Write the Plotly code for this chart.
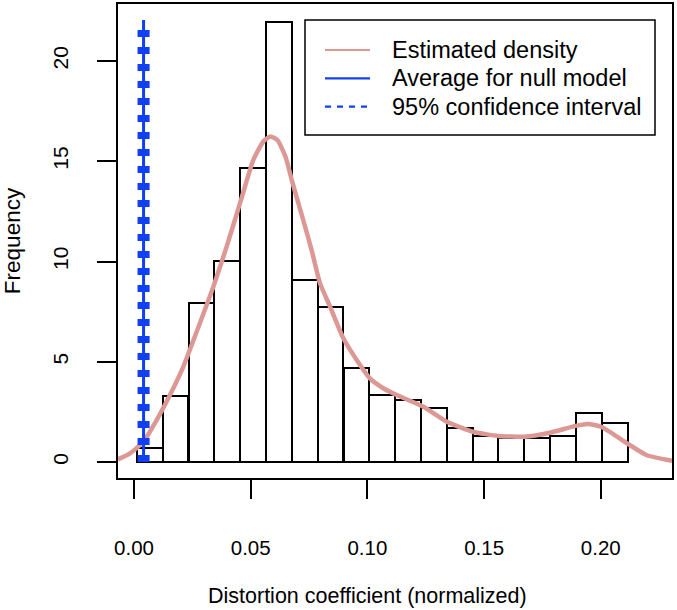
import plotly.graph_objects as go

# ---------------- data ----------------
bin_centers = [0.0067, 0.0178, 0.0289, 0.0399, 0.0510, 0.0621, 0.0732, 0.0842,
               0.0953, 0.1064, 0.1174, 0.1285, 0.1396, 0.1507, 0.1617, 0.1728,
               0.1839, 0.1949, 0.2060]
bin_width = 0.01107
frequency = [0.68, 3.29, 7.95, 10.02, 14.65, 21.96, 9.08, 7.75, 4.67, 3.34,
             3.09, 2.68, 1.71, 1.31, 1.18, 1.18, 1.30, 2.46, 1.95]

density_x = [-0.0069, -0.0017, 0.0040, 0.0097, 0.0154, 0.0211, 0.0275, 0.0340,
             0.0397, 0.0454, 0.0511, 0.0554, 0.0584, 0.0615, 0.0650, 0.0676,
             0.0725, 0.0761, 0.0797, 0.0840, 0.0897, 0.0954, 0.1011, 0.1068,
             0.1126, 0.1240, 0.1341, 0.1452, 0.1561, 0.1672, 0.1782, 0.1892,
             0.1945, 0.2002, 0.2113, 0.2195, 0.2305]
density_y = [0.13, 0.43, 1.01, 2.09, 3.34, 4.75, 6.70, 8.74, 10.74, 12.90,
             15.06, 15.98, 16.24, 16.05, 15.20, 14.06, 12.07, 10.57, 8.91, 7.75,
             6.17, 5.09, 4.17, 3.68, 3.34, 2.76, 2.01, 1.51, 1.30, 1.26, 1.46,
             1.80, 1.90, 1.76, 0.93, 0.35, 0.06]

null_mean = 0.0041
null_ci = [0.0028, 0.0054]
line_top = 22.04

x_ticks = [0.00, 0.05, 0.10, 0.15, 0.20]
y_ticks = [0, 5, 10, 15, 20]

legend_labels = ["Estimated density", "Average for null model", "95% confidence interval"]

# ---------------- style ----------------
PINK = "#dc9894"
BLUE = "#1040f0"
FONT = "Liberation Sans, Arial, sans-serif"

W, H = 677, 610
L, R, T, B = 118, 5, 4, 132
PW, PH = W - L - R, H - T - B


def px_x(p):
    return (p - L) / PW


def px_y(p):
    return (H - B - p) / PH


fig = go.Figure()

fig.add_trace(go.Bar(
    x=bin_centers, y=frequency, width=bin_width,
    marker=dict(color="white", line=dict(color="black", width=2)),
    showlegend=False, name="Histogram"))

fig.add_trace(go.Scatter(
    x=density_x, y=density_y, mode="lines", name=legend_labels[0],
    line=dict(color=PINK, width=4.5, shape="spline", smoothing=0.5),
    showlegend=False))

for xc in null_ci:
    fig.add_trace(go.Scatter(
        x=[xc, xc], y=[0, line_top], mode="lines", name=legend_labels[2],
        line=dict(color=BLUE, width=6, dash="7px,10px"), showlegend=False))

fig.add_trace(go.Scatter(
    x=[null_mean, null_mean], y=[0, line_top], mode="lines", name=legend_labels[1],
    line=dict(color=BLUE, width=3), showlegend=False))

# ---------------- manual legend (R style) ----------------
shapes = [dict(type="rect", xref="paper", yref="paper",
               x0=px_x(305), x1=px_x(655), y0=px_y(135), y1=px_y(20),
               line=dict(color="black", width=1.5), fillcolor="white", layer="above")]
rows = [50, 78.3, 106.7]
samples = [dict(color=PINK, width=2), dict(color=BLUE, width=2.2),
           dict(color=BLUE, width=2.2, dash="6px,6px")]
annotations = []
for ry, st, lab in zip(rows, samples, legend_labels):
    shapes.append(dict(type="line", xref="paper", yref="paper",
                       x0=px_x(325), x1=px_x(370), y0=px_y(ry), y1=px_y(ry),
                       line=st, layer="above"))
    annotations.append(dict(xref="paper", yref="paper", x=px_x(390), y=px_y(ry),
                            text=lab, showarrow=False, xanchor="left", yanchor="middle",
                            font=dict(family=FONT, size=23.5, color="black")))

annotations.append(dict(xref="paper", yref="paper", x=px_x(367), y=px_y(596),
                        text="Distortion coefficient (normalized)", showarrow=False,
                        xanchor="center", yanchor="middle",
                        font=dict(family=FONT, size=21.5, color="black")))

fig.update_layout(
    width=W, height=H,
    margin=dict(l=L, r=R, t=T, b=B, autoexpand=False),
    paper_bgcolor="white", plot_bgcolor="white",
    font=dict(family=FONT, color="black"),
    bargap=0,
    shapes=shapes, annotations=annotations,
    xaxis=dict(range=[-0.006855, 0.23051], tickvals=x_ticks,
               ticktext=[f"{v:.2f}" for v in x_ticks], automargin=False,
               showgrid=False, zeroline=False, showline=True, mirror=True,
               linecolor="black", linewidth=2, ticks="outside", ticklen=19,
               tickwidth=2, tickcolor="black", ticklabelstandoff=31,
               tickfont=dict(family=FONT, size=20.5, color="black")),
    yaxis=dict(range=[-0.798, 22.843], tickvals=y_ticks, automargin=False,
               showgrid=False, zeroline=False, showline=True, mirror=True,
               linecolor="black", linewidth=2, ticks="outside", ticklen=19,
               tickwidth=2, tickcolor="black", tickangle=-90, ticklabelstandoff=21,
               tickfont=dict(family=FONT, size=21, color="black"),
               title=dict(text="Frequency", standoff=23,
                          font=dict(family=FONT, size=22.5, color="black"))),
)

fig.write_html("out.html", config={"displayModeBar": False},
               post_script="document.body.style.margin='0';"
                           "document.body.style.overflow='hidden';")
